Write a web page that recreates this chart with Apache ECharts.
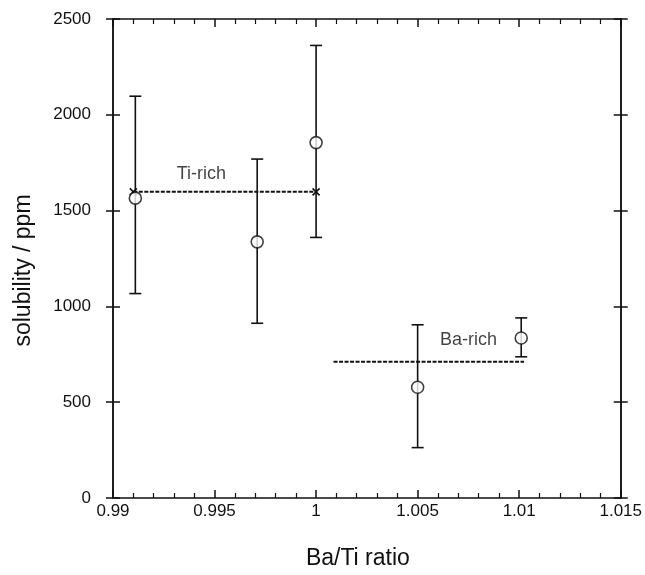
<!DOCTYPE html>
<html>
<head>
<meta charset="utf-8">
<script src="https://cdn.jsdelivr.net/npm/echarts@6/dist/echarts.min.js"></script>
<style>
  html, body { margin: 0; padding: 0; background: #fff; }
  #chart { width: 645px; height: 575px; }
</style>
</head>
<body>
<div id="chart"></div>
<script>
// Ba/Ti ratio and measured solubility (ppm) with error bars
var ratio    = [0.9911, 0.9971, 1.0000, 1.0050, 1.0101];
var solub    = [1565, 1337, 1855, 578, 835];
var errLow   = [1067, 912, 1360, 263, 737];
var errHigh  = [2097, 1769, 2362, 904, 940];

// average levels (dotted lines)
var tiRichLine = [[0.9910, 1598], [1.0000, 1598]];
var tiRichMarks = [[0.9910, 1598], [1.0000, 1598]];
var baRichLine = [[1.00086, 711], [1.01024, 711]];

var xTickLabels = ['0.99', '0.995', '1', '1.005', '1.01', '1.015'];
var yTickLabels = ['0', '500', '1000', '1500', '2000', '2500'];
var notes = [
  { name: 'Ti-rich', value: [0.99435, 1690] },
  { name: 'Ba-rich', value: [1.0075, 826] }
];

var font = 'Liberation Sans, Arial, Helvetica, sans-serif';
var black = '#111';

function xAxisCfg(pos, showLabel) {
  return {
    type: 'value', position: pos, min: 0.99, max: 1.015, interval: 0.005,
    axisLine: { show: true, onZero: false, lineStyle: { color: black, width: 1.5 } },
    axisTick: { show: true, inside: true, length: 8, lineStyle: { color: black, width: 1.5 } },
    minorTick: { show: true, splitNumber: 5, length: 5, lineStyle: { color: black, width: 1.2 } },
    splitLine: { show: false },
    axisLabel: {
      show: showLabel, margin: 5, color: black, fontSize: 17, fontFamily: font,
      formatter: function (v, i) { return xTickLabels[i]; }
    }
  };
}
function yAxisCfg(pos, inside, showLabel) {
  return {
    type: 'value', position: pos, min: 0, max: 2500, interval: 500,
    axisLine: { show: true, onZero: false, lineStyle: { color: black, width: 1.5 } },
    axisTick: { show: true, inside: inside, length: 7, lineStyle: { color: black, width: 1.5 } },
    splitLine: { show: false },
    axisLabel: {
      show: showLabel, margin: 22, color: black, fontSize: 17, fontFamily: font,
      formatter: function (v, i) { return yTickLabels[i]; }
    }
  };
}

var xa = xAxisCfg('bottom', true);
xa.name = 'Ba/Ti ratio';
xa.nameLocation = 'middle';
xa.nameGap = 49;
xa.nameTextStyle = { fontSize: 23, color: black, fontFamily: font, padding: [0, 18, 0, 0] };

var ya = yAxisCfg('left', false, true);
ya.name = 'solubility / ppm';
ya.nameLocation = 'middle';
ya.nameGap = 78;
ya.nameTextStyle = { fontSize: 23, color: black, fontFamily: font, padding: [0, 0, 0, -24] };

var option = {
  backgroundColor: '#fff',
  animation: false,
  grid: { left: 113, right: 21, top: 19, bottom: 70 },
  xAxis: [xa, xAxisCfg('top', false)],
  yAxis: [ya, yAxisCfg('left', true, false), yAxisCfg('right', false, false), yAxisCfg('right', true, false)],
  series: [
    {
      type: 'line', data: tiRichLine, symbol: 'none',
      lineStyle: { color: black, width: 2, type: [4, 1.5] }
    },
    {
      type: 'line', data: baRichLine, symbol: 'none',
      lineStyle: { color: black, width: 2, type: [4, 1.5] }
    },
    {
      type: 'custom',
      data: ratio.map(function (r, i) { return [r, errLow[i], errHigh[i]]; }),
      renderItem: function (params, api) {
        var lo = api.coord([api.value(0), api.value(1)]);
        var hi = api.coord([api.value(0), api.value(2)]);
        var w = 6;
        var st = { stroke: black, lineWidth: 1.6 };
        return {
          type: 'group',
          children: [
            { type: 'line', shape: { x1: lo[0], y1: lo[1], x2: hi[0], y2: hi[1] }, style: st },
            { type: 'line', shape: { x1: lo[0] - w, y1: lo[1], x2: lo[0] + w, y2: lo[1] }, style: st },
            { type: 'line', shape: { x1: hi[0] - w, y1: hi[1], x2: hi[0] + w, y2: hi[1] }, style: st }
          ]
        };
      }
    },
    {
      type: 'custom',
      data: tiRichMarks,
      renderItem: function (params, api) {
        var p = api.coord([api.value(0), api.value(1)]);
        var s = 3.5;
        var st = { stroke: black, lineWidth: 1.6 };
        return {
          type: 'group',
          children: [
            { type: 'line', shape: { x1: p[0] - s, y1: p[1] - s, x2: p[0] + s, y2: p[1] + s }, style: st },
            { type: 'line', shape: { x1: p[0] - s, y1: p[1] + s, x2: p[0] + s, y2: p[1] - s }, style: st }
          ]
        };
      }
    },
    {
      type: 'scatter',
      data: ratio.map(function (r, i) { return [r, solub[i]]; }),
      symbol: 'circle', symbolSize: 12,
      itemStyle: { color: '#fff', borderColor: black, borderWidth: 1.6 },
      z: 5
    },
    {
      type: 'scatter',
      data: notes,
      symbolSize: 0,
      itemStyle: { color: black },
      label: {
        show: true, position: 'inside', formatter: '{b}',
        color: black, fontSize: 18, fontFamily: font,
        textBorderWidth: 0
      }
    }
  ]
};

var chart = echarts.init(document.getElementById('chart'), null, { renderer: 'canvas' });
chart.setOption(option);
</script>
</body>
</html>
